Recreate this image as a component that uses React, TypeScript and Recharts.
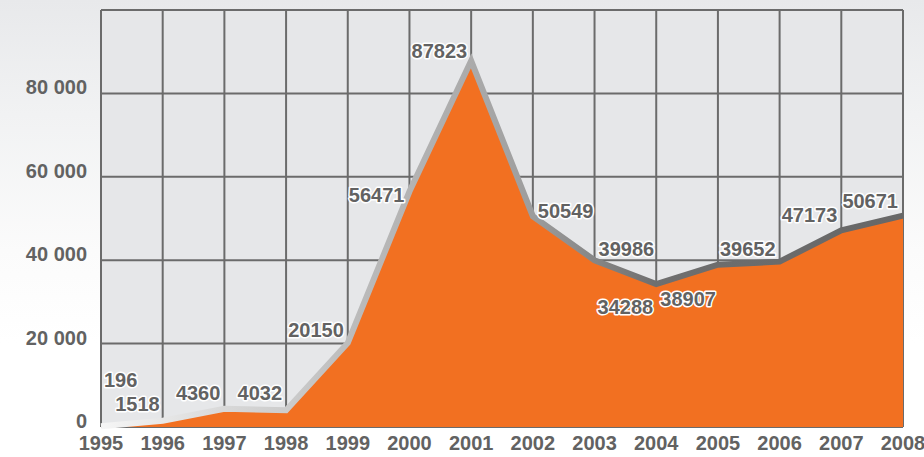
import React from "react";
import {
  ComposedChart,
  Area,
  Line,
  XAxis,
  YAxis,
  CartesianGrid,
  LabelList,
} from "recharts";

const years = [1995, 1996, 1997, 1998, 1999, 2000, 2001, 2002, 2003, 2004, 2005, 2006, 2007, 2008];
const values = [196, 1518, 4360, 4032, 20150, 56471, 87823, 50549, 39986, 34288, 38907, 39652, 47173, 50671];
const yTicks = [0, 20000, 40000, 60000, 80000, 100000];

const data = years.map((year, i) => ({ year, v: values[i] }));

// label placement (layout only)
const labelOffsets: { dx: number; dy: number; anchor: "start" | "end" }[] = [
  { dx: 3, dy: -46, anchor: "start" },
  { dx: -3, dy: -17, anchor: "end" },
  { dx: -4, dy: -16, anchor: "end" },
  { dx: -4, dy: -17, anchor: "end" },
  { dx: -4, dy: -13, anchor: "end" },
  { dx: -5, dy: 3, anchor: "end" },
  { dx: -4, dy: -10, anchor: "end" },
  { dx: 5, dy: -5, anchor: "start" },
  { dx: 4, dy: -11, anchor: "start" },
  { dx: -3, dy: 23, anchor: "end" },
  { dx: -2, dy: 34, anchor: "end" },
  { dx: -4, dy: -13, anchor: "end" },
  { dx: -4, dy: -15, anchor: "end" },
  { dx: -5, dy: -15, anchor: "end" },
];

const FONT = "'Liberation Sans', Arial, Helvetica, sans-serif";
const TEXT = "#626262";

const fmt = (n: number) => String(n).replace(/\B(?=(\d{3})+(?!\d))/g, " ");

const YTick = (props: any) => {
  const { y, payload } = props;
  if (payload.value === 100000) return null;
  return (
    <text
      x={87}
      y={y - 6}
      textAnchor="end"
      dominantBaseline="central"
      fontFamily={FONT}
      fontWeight="bold"
      fontSize={20}
      fill={TEXT}
    >
      {fmt(payload.value)}
    </text>
  );
};

const XTick = (props: any) => {
  const { x, payload } = props;
  return (
    <text
      x={x}
      y={443}
      textAnchor="middle"
      dominantBaseline="central"
      fontFamily={FONT}
      fontWeight="bold"
      fontSize={20}
      fill={TEXT}
    >
      {payload.value}
    </text>
  );
};

const ValueLabel = (props: any) => {
  const { x, y, value, index } = props;
  const o = labelOffsets[index] || { dx: 0, dy: -12, anchor: "middle" };
  return (
    <text
      x={x + o.dx}
      y={y + o.dy}
      textAnchor={o.anchor}
      dominantBaseline="central"
      fontFamily={FONT}
      fontWeight="bold"
      fontSize={20}
      fill={TEXT}
      stroke="#ffffff"
      strokeWidth={3}
      strokeLinejoin="round"
      style={{ paintOrder: "stroke" }}
    >
      {value}
    </text>
  );
};

export default function App() {
  return (
    <div
      style={{
        position: "fixed",
        left: 0,
        top: 0,
        width: 924,
        height: 457,
        background:
          "linear-gradient(to bottom, #e8e9eb 0%, #f1f2f3 25%, #fbfbfb 55%, #ffffff 75%)",
      }}
    >
      <ComposedChart
        width={924}
        height={457}
        data={data}
        margin={{ top: 10, right: 21, bottom: 0, left: 0 }}
      >
        <defs>
          <linearGradient id="lineGrad" x1="0" y1="0" x2="1" y2="0">
            <stop offset="0" stopColor="#f6f6f6" />
            <stop offset="0.154" stopColor="#d8d8d8" />
            <stop offset="0.231" stopColor="#cccccc" />
            <stop offset="0.31" stopColor="#bcbcbc" />
            <stop offset="0.46" stopColor="#ababab" />
            <stop offset="0.54" stopColor="#9c9c9c" />
            <stop offset="0.615" stopColor="#868686" />
            <stop offset="0.69" stopColor="#6f6f6f" />
            <stop offset="1" stopColor="#676767" />
          </linearGradient>
        </defs>
        <CartesianGrid
          horizontal={false}
          vertical={false}
          fill="#e6e7e9"
          stroke="none"
        />
        <XAxis
          dataKey="year"
          height={30}
          tick={<XTick />}
          tickLine={false}
          axisLine={false}
          interval={0}
        />
        <YAxis
          width={101}
          domain={[0, 100000]}
          ticks={yTicks}
          tick={<YTick />}
          tickLine={false}
          axisLine={false}
          interval={0}
        />
        <Area
          dataKey="v"
          type="linear"
          fill="#f27021"
          fillOpacity={1}
          stroke="none"
          isAnimationActive={false}
        />
        <CartesianGrid stroke="#6b6b6b" strokeWidth={2} strokeDasharray="" />
        <Line
          dataKey="v"
          type="linear"
          stroke="url(#lineGrad)"
          strokeWidth={6}
          strokeLinejoin="miter"
          dot={false}
          activeDot={false}
          isAnimationActive={false}
        >
          <LabelList dataKey="v" content={<ValueLabel />} />
        </Line>
      </ComposedChart>
    </div>
  );
}
